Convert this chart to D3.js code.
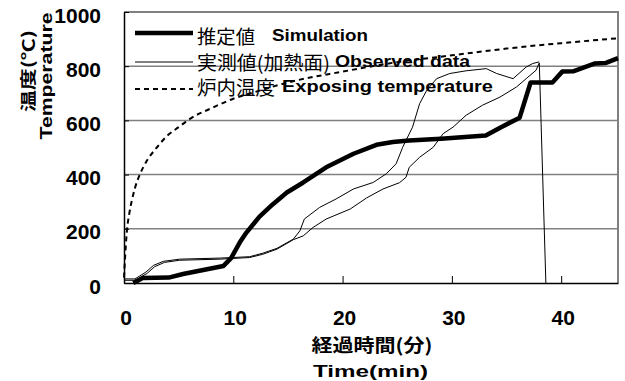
<!DOCTYPE html>
<html>
<head>
<meta charset="utf-8">
<script src="https://cdn.jsdelivr.net/npm/d3@7"></script>
<style>
  body { margin: 0; background: #fff; }
  svg { display: block; }
</style>
</head>
<body>
<svg width="625" height="381"></svg>
<script>
// values
const simTime = [0.85, 1.7, 4.1, 5.4, 9.1, 9.8, 10.6, 11.2, 12.4, 13.6, 14.9, 16.4, 18.5, 21.0, 23.1, 24.6, 26.1, 29.0, 33.1, 34.5, 36.2, 37.2, 39.2, 40.1, 41.1, 43.1, 44.1, 45.2];
const simTemp = [0, 18, 20, 33, 63, 92, 150, 186, 245, 290, 334, 371, 427, 477, 510, 520, 526, 532, 544, 575, 610, 740, 740, 780, 781, 810, 812, 830];

const obsATime = [0, 1.0, 2.0, 2.7, 3.6, 5.1, 8.8, 11.5, 12.7, 14.0, 15.5, 16.1, 16.5, 17.9, 19.4, 21.0, 22.8, 24.0, 24.9, 25.5, 26.4, 27.05, 27.7, 28.6, 29.8, 31.3, 33.15, 34.1, 35.6, 36.8, 37.4, 38.0];
const obsATemp = [15, 15, 40, 65, 80, 88, 92, 97, 110, 128, 162, 193, 236, 279, 310, 347, 371, 403, 440, 501, 575, 662, 711, 754, 773, 783, 791, 773, 754, 797, 810, 816];

const obsBTime = [0, 1.0, 2.1, 2.8, 3.7, 5.1, 8.8, 11.5, 12.7, 14.0, 15.5, 16.4, 17.3, 18.5, 20.7, 22.2, 23.7, 25.2, 25.8, 26.1, 27.05, 28.3, 29.2, 30.1, 31.3, 32.8, 34.4, 35.9, 36.8, 37.7, 38.0, 38.6];
const obsBTemp = [10, 10, 35, 60, 76, 84, 88, 94, 106, 125, 160, 174, 205, 236, 273, 314, 347, 370, 390, 427, 464, 501, 551, 575, 619, 656, 686, 723, 754, 785, 812, 0];

const furnTime = [0, 0.1, 0.25, 0.5, 0.75, 1, 1.5, 2, 3, 4, 5, 6, 8, 10, 12, 15, 20, 25, 30, 35, 40, 45.2];
const furnTemp = [20, 95, 185, 260, 310, 350, 405, 445, 500, 545, 575, 605, 645, 680, 705, 740, 780, 815, 840, 865, 885, 903];

const xTicks = [0, 10, 20, 30, 40];
const yTicks = [0, 200, 400, 600, 800, 1000];

const legendJa = ["推定値", "実測値(加熱面)", "炉内温度"];
const legendEn = ["Simulation", "Observed data", "Exposing temperature"];

const jaFont = "'Noto Sans CJK JP', sans-serif";
const enFont = "'Liberation Sans', Arial, sans-serif";

const svg = d3.select("svg");

const x = d3.scaleLinear().domain([0, 45.2]).range([124, 618]);
const y = d3.scaleLinear().domain([0, 1000]).range([283, 12]);

// gridlines
svg.append("g")
  .selectAll("line")
  .data(yTicks.filter(d => d > 0 && d < 1000))
  .join("line")
    .attr("x1", x(0)).attr("x2", x(45.2))
    .attr("y1", d => y(d)).attr("y2", d => y(d))
    .attr("stroke", "#808080")
    .attr("stroke-width", 1.5);

// frame: top and right gray
svg.append("path")
  .attr("d", `M${x(0)},${y(1000)}H${x(45.2)}V${y(0)}`)
  .attr("fill", "none")
  .attr("stroke", "#808080")
  .attr("stroke-width", 2);

// axes with inner ticks
const xAxis = svg.append("g")
  .attr("transform", `translate(0,${y(0)})`)
  .call(d3.axisBottom(x).tickValues(xTicks).tickSizeInner(-7).tickSizeOuter(0).tickFormat(""));
xAxis.select(".domain").attr("stroke", "#000").attr("stroke-width", 1.5);

const yAxis = svg.append("g")
  .attr("transform", `translate(${x(0)},0)`)
  .call(d3.axisLeft(y).tickValues(yTicks).tickSizeInner(-5).tickSizeOuter(0).tickFormat(""));
yAxis.select(".domain").attr("stroke", "#000").attr("stroke-width", 1.5);

// tick labels
svg.append("g")
  .selectAll("text")
  .data(yTicks)
  .join("text")
    .attr("x", 101)
    .attr("y", d => y(d) + 3)
    .attr("text-anchor", "end")
    .attr("dominant-baseline", "central")
    .attr("font-family", enFont)
    .attr("font-weight", "bold")
    .attr("font-size", 21)
    .text(d => d);

svg.append("g")
  .selectAll("text")
  .data(xTicks)
  .join("text")
    .attr("x", d => x(d) + 2)
    .attr("y", 325)
    .attr("text-anchor", "middle")
    .attr("font-family", enFont)
    .attr("font-weight", "bold")
    .attr("font-size", 21)
    .text(d => d);

// axis titles
function fitText(sel, len) {
  sel.attr("textLength", len).attr("lengthAdjust", "spacingAndGlyphs");
}

svg.append("text")
  .attr("x", 372).attr("y", 344)
  .attr("text-anchor", "middle").attr("dominant-baseline", "central")
  .attr("font-family", jaFont).attr("font-weight", "bold").attr("font-size", 18)
  .text("経過時間(分)")
  .call(fitText, 121);

svg.append("text")
  .attr("x", 370.5).attr("y", 371)
  .attr("text-anchor", "middle").attr("dominant-baseline", "central")
  .attr("font-family", enFont).attr("font-weight", "bold").attr("font-size", 16)
  .text("Time(min)")
  .call(fitText, 115);

svg.append("text")
  .attr("transform", "translate(27,71) rotate(-90)")
  .attr("text-anchor", "middle").attr("dominant-baseline", "central")
  .attr("font-family", jaFont).attr("font-weight", "bold").attr("font-size", 16)
  .text("温度(℃)")
  .call(fitText, 82);

svg.append("text")
  .attr("transform", "translate(46.5,76) rotate(-90)")
  .attr("text-anchor", "middle").attr("dominant-baseline", "central")
  .attr("font-family", enFont).attr("font-weight", "bold").attr("font-size", 16)
  .text("Temperature")
  .call(fitText, 127);

// series
const line = d3.line().x(d => x(d[0])).y(d => y(d[1]));
const zip = (a, b) => a.map((v, i) => [v, b[i]]);

svg.append("path")
  .datum(zip(furnTime, furnTemp))
  .attr("d", line.curve(d3.curveMonotoneX))
  .attr("fill", "none")
  .attr("stroke", "#000")
  .attr("stroke-width", 2)
  .attr("stroke-dasharray", "5,4");

line.curve(d3.curveLinear);

svg.append("path")
  .datum(zip(obsATime, obsATemp))
  .attr("d", line)
  .attr("fill", "none")
  .attr("stroke", "#000")
  .attr("stroke-width", 1);

svg.append("path")
  .datum(zip(obsBTime, obsBTemp))
  .attr("d", line)
  .attr("fill", "none")
  .attr("stroke", "#000")
  .attr("stroke-width", 1);

svg.append("path")
  .datum(zip(simTime, simTemp))
  .attr("d", line)
  .attr("fill", "none")
  .attr("stroke", "#000")
  .attr("stroke-width", 4.5)
  .attr("stroke-linejoin", "round");

// legend
const legendY = [33, 62, 89];
const legendStyle = [
  {w: 4.5, dash: null},
  {w: 1, dash: null},
  {w: 2, dash: "5,4"}
];
const jaLen = [58, 133, 78];
const enX = [272, 335, 282];
const enLen = [96, 135, 211];
const textY = [35, 61, 86];

legendY.forEach((ly, i) => {
  svg.append("line")
    .attr("x1", 135).attr("x2", 193)
    .attr("y1", ly).attr("y2", ly)
    .attr("stroke", "#000")
    .attr("stroke-width", legendStyle[i].w)
    .attr("stroke-dasharray", legendStyle[i].dash);

  svg.append("text")
    .attr("x", 197).attr("y", textY[i])
    .attr("dominant-baseline", "central")
    .attr("font-family", jaFont).attr("font-size", 19)
    .text(legendJa[i])
    .call(fitText, jaLen[i]);

  svg.append("text")
    .attr("x", enX[i]).attr("y", textY[i])
    .attr("dominant-baseline", "central")
    .attr("font-family", enFont).attr("font-weight", "bold").attr("font-size", 17)
    .text(legendEn[i])
    .call(fitText, enLen[i]);
});
</script>
</body>
</html>
